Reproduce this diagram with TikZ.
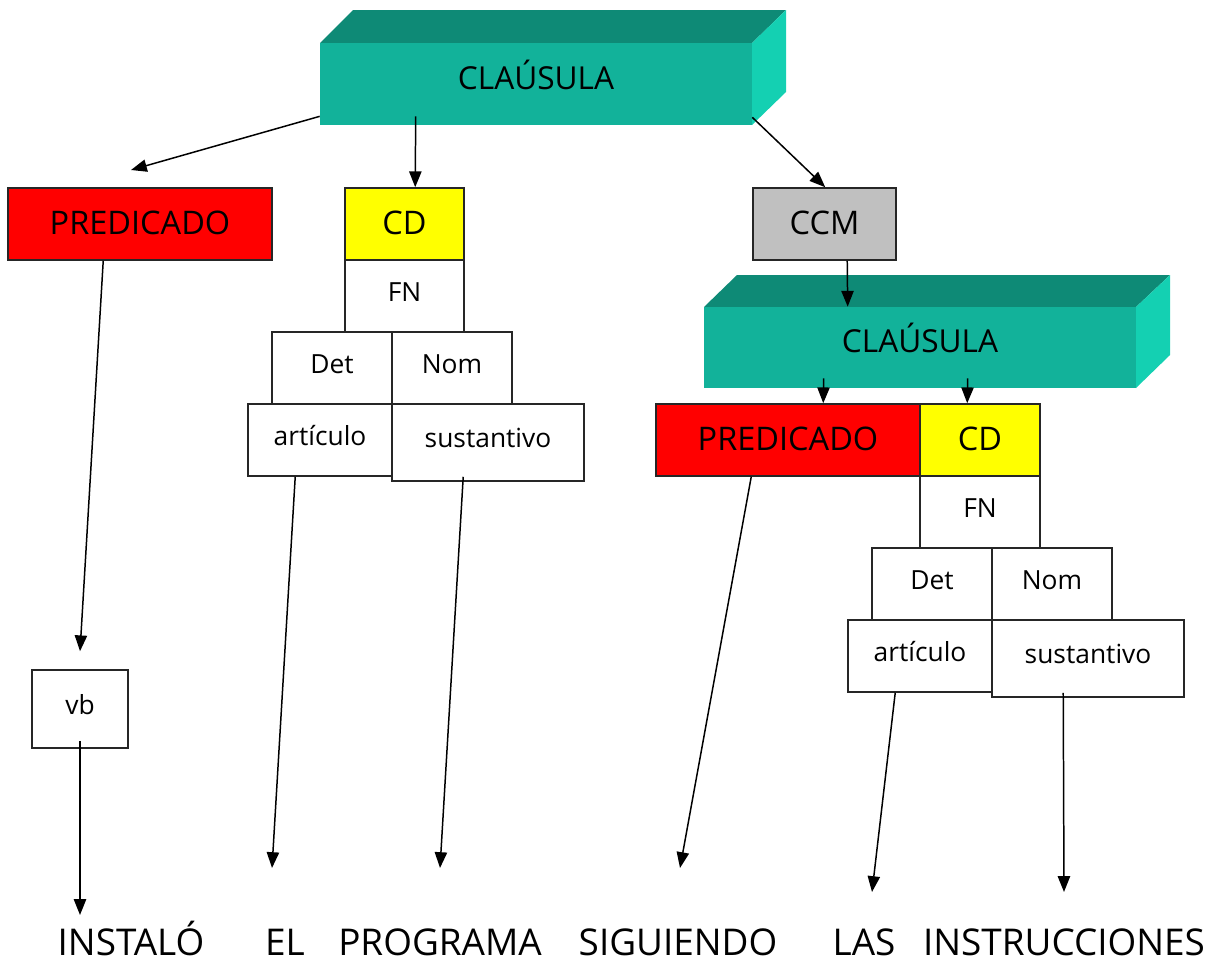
\documentclass[tikz,border=0pt]{standalone}
\usepackage{fontspec}
\setmainfont{Open Sans}
\newfontfamily\wordfont{Open Sans}
\usetikzlibrary{arrows.meta,calc}
\definecolor{tealfront}{RGB}{18,178,154}
\definecolor{tealtop}{RGB}{14,138,118}
\definecolor{tealside}{RGB}{20,208,178}
\definecolor{boxred}{RGB}{255,0,0}
\definecolor{boxyellow}{RGB}{255,255,0}
\definecolor{boxgray}{RGB}{192,192,192}
\begin{document}
\begin{tikzpicture}[x=0.02cm,y=-0.02cm,
  lab/.style={draw=black!85, line width=0.9pt, inner sep=0pt, fill=white, text height=11pt, text depth=5pt, font=\fontsize{15}{18}\selectfont},
  big/.style={lab, text height=13pt, text depth=1pt, font=\fontsize{18.5}{22}\selectfont},
  front/.style={fill=tealfront, inner sep=0pt, text height=12pt, text depth=6pt, font=\fontsize{18}{22}\selectfont},
  word/.style={inner sep=0pt, anchor=base, font=\wordfont\fontsize{21}{25}\selectfont},
  arr/.style={-{Triangle[length=9pt,width=7pt]}, line width=0.85pt}]
\useasboundingbox (0,0) rectangle (1221,964);

% top clause block
\fill[tealtop] (320,43) -- (353,10) -- (786,10) -- (752,43) -- cycle;
\fill[tealside] (752,43) -- (786,10) -- (786,92) -- (752,125) -- cycle;
\node[front, minimum width=8.64cm, minimum height=1.64cm] (clau1) at (536,84) {CLAÚSULA};

% second clause block
\fill[tealtop] (704,307) -- (737,275) -- (1170,275) -- (1136,307) -- cycle;
\fill[tealside] (1136,307) -- (1170,275) -- (1170,355) -- (1136,388) -- cycle;
\node[front, minimum width=8.64cm, minimum height=1.62cm] (clau2) at (920,347.5) {CLAÚSULA};

% left branch
\node[big, fill=boxred, minimum width=5.28cm, minimum height=1.44cm] (pred1) at (140,224) {PREDICADO};
\node[big, fill=boxyellow, minimum width=2.38cm, minimum height=1.44cm] (cd1) at (404.5,224) {CD};
\node[lab, minimum width=2.38cm, minimum height=1.44cm] (fn1) at (404.5,296) {FN};
\node[lab, minimum width=2.4cm, minimum height=1.44cm] (det1) at (332,368) {Det};
\node[lab, minimum width=2.4cm, minimum height=1.44cm] (nom1) at (452,368) {Nom};
\node[lab, minimum width=2.88cm, minimum height=1.44cm] (art1) at (320,440) {artículo};
\node[lab, minimum width=3.84cm, minimum height=1.54cm] (sus1) at (488,442.5) {sustantivo};
\node[lab, minimum width=1.92cm, minimum height=1.56cm] (vb) at (80,709) {vb};
\node[big, fill=boxgray, minimum width=2.86cm, minimum height=1.44cm] (ccm) at (824.5,224) {CCM};

% right branch
\node[big, fill=boxred, minimum width=5.28cm, minimum height=1.44cm] (pred2) at (788,440) {PREDICADO};
\node[big, fill=boxyellow, minimum width=2.4cm, minimum height=1.44cm] (cd2) at (980,440) {CD};
\node[lab, minimum width=2.4cm, minimum height=1.44cm] (fn2) at (980,512) {FN};
\node[lab, minimum width=2.4cm, minimum height=1.44cm] (det2) at (932,584) {Det};
\node[lab, minimum width=2.4cm, minimum height=1.44cm] (nom2) at (1052,584) {Nom};
\node[lab, minimum width=2.88cm, minimum height=1.44cm] (art2) at (920,656) {artículo};
\node[lab, minimum width=3.84cm, minimum height=1.54cm] (sus2) at (1088,658.5) {sustantivo};

% words
\node[word] (w1) at (131,955) {INSTALÓ};
\node[word] (w2) at (285,955) {EL};
\node[word] (w3) at (440,955) {PROGRAMA};
\node[word] (w4) at (678,955) {SIGUIENDO};
\node[word] (w5) at (864,955) {LAS};
\node[word] (w6) at (1064,955) {INSTRUCCIONES};

% free arrow ends
\coordinate (t1) at (131,170);
\coordinate (e1) at (80,915);
\coordinate (e2) at (272,868);
\coordinate (e3) at (440,868);
\coordinate (e4) at (680,868);
\coordinate (e5) at (872,892);
\coordinate (e6) at (1064,892);

% connectors
\draw[arr] ($(clau1.south west)+(0,-9)$) -- (t1);
\draw[arr] ($(clau1.south west)+(96,-9)$) -- ($(cd1.north west)+(71,0)$);
\draw[arr] ($(clau1.south east)+(0,-8)$) -- ($(ccm.north west)+(73,0)$);
\draw[arr] ($(ccm.south west)+(95,0)$) -- ($(clau2.north west)+(144,0)$);
\draw[arr] ($(clau2.south west)+(120,-10)$) -- ($(pred2.north west)+(168,0)$);
\draw[arr] ($(clau2.south west)+(264,-10)$) -- ($(cd2.north west)+(48,0)$);
\draw[arr] ($(pred1.south west)+(96,0)$) -- ($(vb.north)+(0,-18)$);
\draw[arr] ($(vb.south)+(0,-8)$) -- (e1);
\draw[arr] ($(art1.south west)+(48,0)$) -- (e2);
\draw[arr] ($(sus1.south west)+(72,-5)$) -- (e3);
\draw[arr] ($(pred2.south west)+(96,0)$) -- (e4);
\draw[arr] ($(art2.south west)+(48,0)$) -- (e5);
\draw[arr] ($(sus2.south west)+(72,-5)$) -- (e6);
\end{tikzpicture}
\end{document}
